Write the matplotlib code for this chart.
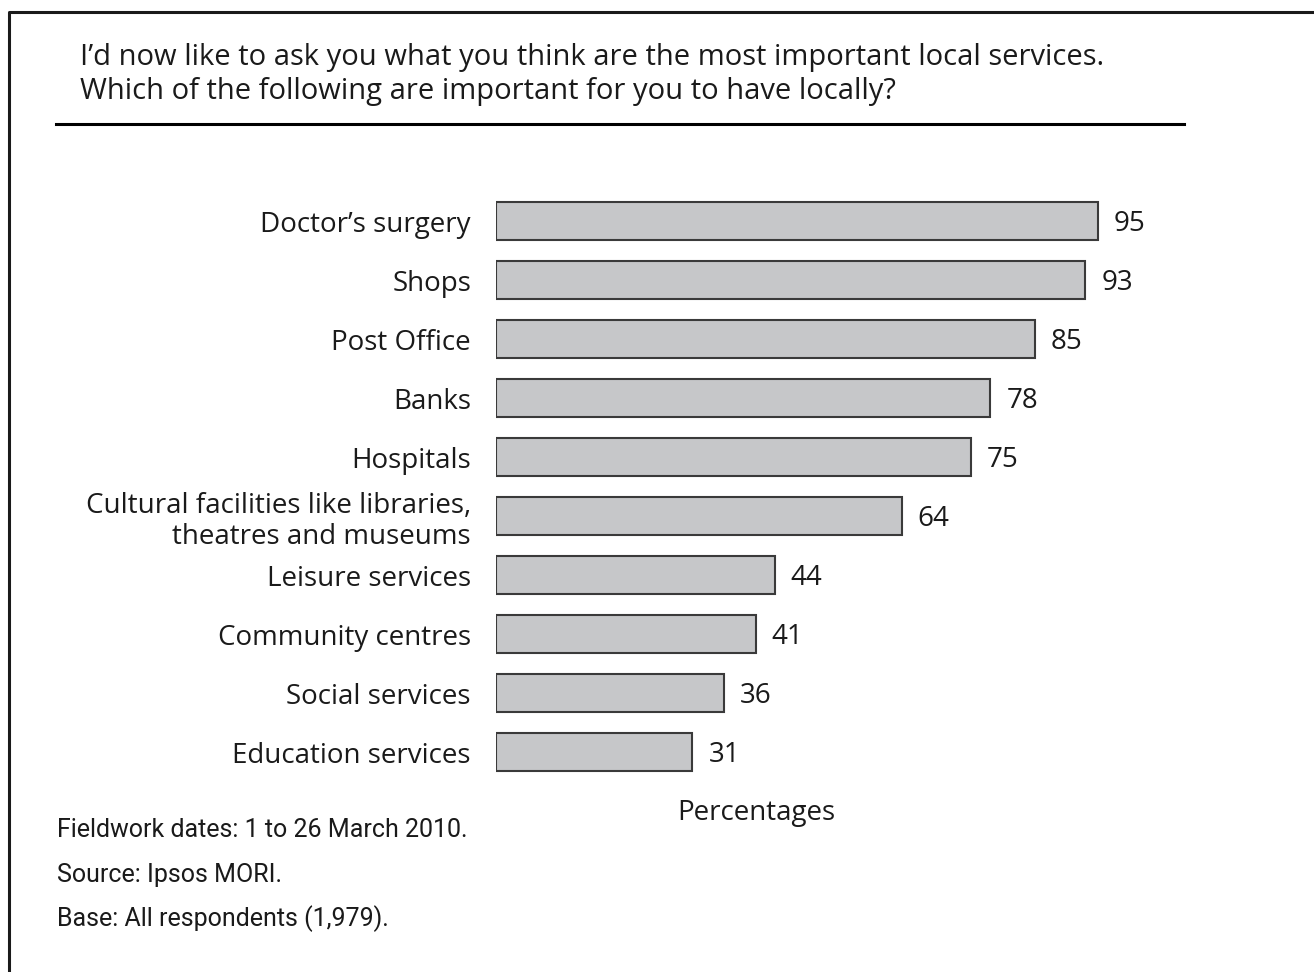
import matplotlib
matplotlib.use("Agg")
import matplotlib.pyplot as plt
from matplotlib.lines import Line2D

categories = ["Doctor\u2019s surgery", "Shops", "Post Office", "Banks", "Hospitals",
              "Cultural facilities like libraries,\ntheatres and museums",
              "Leisure services", "Community centres", "Social services",
              "Education services"]
values = [95, 93, 85, 78, 75, 64, 44, 41, 36, 31]

title_lines = ["I\u2019d now like to ask you what you think are the most important local services.",
               "Which of the following are important for you to have locally?"]
footer_lines = ["Fieldwork dates: 1 to 26 March 2010.",
                "Source: Ipsos MORI.",
                "Base: All respondents (1,979)."]

FONT = "Open Sans"
FOOT_FONT = ["Roboto", "Open Sans"]
W, H = 1314, 972
fig = plt.figure(figsize=(W / 100, H / 100), dpi=100)

ax = fig.add_axes([496 / W, 1 - 781.5 / H, 633.7 / W, 590 / H])
ypos = list(range(len(categories)))
ax.barh(ypos, values, height=0.66, color="#c6c7c9", edgecolor="#3a3a3a", linewidth=1.5)
ax.set_xlim(0, 100)
ax.set_ylim(len(categories) - 0.5, -0.5)
for s in ax.spines.values():
    s.set_visible(False)
ax.set_xticks([])
ax.set_yticks(ypos)
ax.set_yticklabels(categories, fontsize=20, family=FONT, color="#1a1a1a",
                   linespacing=1.15)
ax.tick_params(axis="y", length=0, pad=18)
for y, v in zip(ypos, values):
    ax.annotate(str(v), xy=(v, y), xytext=(11.5, -2), textcoords="offset points",
                ha="left", va="center", fontsize=20, family=FONT, color="#1a1a1a")

# title
fig.text(80 / W, 1 - 57 / H, title_lines[0], fontsize=21, family=FONT, color="#1a1a1a",
         ha="left", va="center")
fig.text(80 / W, 1 - 91 / H, title_lines[1], fontsize=21, family=FONT, color="#1a1a1a",
         ha="left", va="center")
fig.add_artist(Line2D([56 / W, 1184 / W], [1 - 124 / H, 1 - 124 / H], color="black",
                      linewidth=2.2, transform=fig.transFigure))

# frame (left and top)
fig.add_artist(Line2D([9 / W, 9 / W, 1], [0, 1 - 12 / H, 1 - 12 / H], color="#1a1a1a",
                      linewidth=2.2, transform=fig.transFigure))

fig.text(756 / W, 1 - 813 / H, "Percentages", fontsize=20, family=FONT, color="#1a1a1a",
         ha="center", va="center", weight="medium")

for i, line in enumerate(footer_lines):
    fig.text(57 / W, 1 - (830 + 44.5 * i) / H, line, fontsize=18, family=FOOT_FONT,
             color="#1a1a1a", ha="left", va="center")

fig.savefig("out.png", dpi=100)
